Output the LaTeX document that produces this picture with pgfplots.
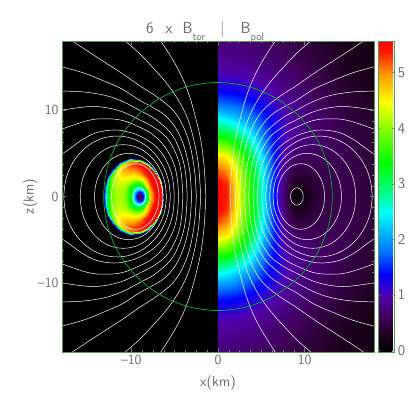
\documentclass[border=0pt]{standalone}
\usepackage{pgfplots}
\usepackage{pgfplotstable}
\pgfplotsset{compat=1.18}
\definecolor{frm}{rgb}{0.36,0.58,0.36}
\definecolor{txt}{rgb}{0.42,0.42,0.42}
\definecolor{circ}{rgb}{0.05,0.68,0.2}
\pgfplotstableread[row sep=\\]{
x y v\\
0 0 5.55\\ 1 0 5.35\\ 2 0 4.7\\ 3 0 3.95\\ 4 0 3.3\\ 5 0 2.7\\ 6 0 1.75\\ 7 0 1.05\\ 8 0 0.5\\ 9 0 0.03\\ 10 0 0.2\\ 11.5 0 0.42\\ 13 0 0.5\\ 15 0 0.52\\ 18 0 0.42\\
0 1.5 5.5\\ 1 1.5 5.3\\ 2 1.5 4.65\\ 3 1.5 3.95\\ 4 1.5 3.3\\ 5 1.5 2.7\\ 6 1.5 1.8\\ 7 1.5 1.1\\ 8 1.5 0.55\\ 9 1.5 0.25\\ 10 1.5 0.3\\ 11.5 1.5 0.45\\ 13 1.5 0.52\\ 15 1.5 0.52\\ 18 1.5 0.42\\
0 3 5.2\\ 1 3 5.0\\ 2 3 4.5\\ 3 3 3.85\\ 4 3 3.2\\ 5 3 2.6\\ 6 3 1.8\\ 7 3 1.15\\ 8 3 0.7\\ 9 3 0.45\\ 10 3 0.45\\ 11.5 3 0.5\\ 13 3 0.55\\ 15 3 0.53\\ 18 3 0.42\\
0 4.5 4.7\\ 1 4.5 4.55\\ 2 4.5 4.15\\ 3 4.5 3.6\\ 4 4.5 3.0\\ 5 4.5 2.45\\ 6 4.5 1.75\\ 7 4.5 1.2\\ 8 4.5 0.85\\ 9 4.5 0.65\\ 10 4.5 0.6\\ 11.5 4.5 0.58\\ 13 4.5 0.57\\ 15 4.5 0.53\\ 18 4.5 0.41\\
0 6 3.95\\ 1 6 3.85\\ 2 6 3.55\\ 3 6 3.15\\ 4 6 2.65\\ 5 6 2.15\\ 6 6 1.6\\ 7 6 1.2\\ 8 6 0.95\\ 9 6 0.8\\ 10 6 0.72\\ 11.5 6 0.65\\ 13 6 0.6\\ 15 6 0.52\\ 18 6 0.4\\
0 7.5 3.1\\ 1 7.5 3.05\\ 2 7.5 2.85\\ 3 7.5 2.6\\ 4 7.5 2.25\\ 5 7.5 1.85\\ 6 7.5 1.5\\ 7 7.5 1.2\\ 8 7.5 1.0\\ 9 7.5 0.88\\ 10 7.5 0.78\\ 11.5 7.5 0.68\\ 13 7.5 0.6\\ 15 7.5 0.5\\ 18 7.5 0.38\\
0 9 2.5\\ 1 9 2.4\\ 2 9 2.25\\ 3 9 2.05\\ 4 9 1.85\\ 5 9 1.6\\ 6 9 1.35\\ 7 9 1.15\\ 8 9 1.0\\ 9 9 0.88\\ 10 9 0.78\\ 11.5 9 0.68\\ 13 9 0.58\\ 15 9 0.47\\ 18 9 0.35\\
0 10.5 1.85\\ 1 10.5 1.82\\ 2 10.5 1.75\\ 3 10.5 1.65\\ 4 10.5 1.5\\ 5 10.5 1.35\\ 6 10.5 1.2\\ 7 10.5 1.05\\ 8 10.5 0.93\\ 9 10.5 0.83\\ 10 10.5 0.74\\ 11.5 10.5 0.63\\ 13 10.5 0.54\\ 15 10.5 0.43\\ 18 10.5 0.3\\
0 12 1.4\\ 1 12 1.38\\ 2 12 1.35\\ 3 12 1.28\\ 4 12 1.2\\ 5 12 1.12\\ 6 12 1.02\\ 7 12 0.92\\ 8 12 0.83\\ 9 12 0.75\\ 10 12 0.68\\ 11.5 12 0.58\\ 13 12 0.49\\ 15 12 0.38\\ 18 12 0.26\\
0 13.5 1.12\\ 1 13.5 1.1\\ 2 13.5 1.08\\ 3 13.5 1.04\\ 4 13.5 1.0\\ 5 13.5 0.93\\ 6 13.5 0.87\\ 7 13.5 0.8\\ 8 13.5 0.73\\ 9 13.5 0.67\\ 10 13.5 0.61\\ 11.5 13.5 0.52\\ 13 13.5 0.43\\ 15 13.5 0.33\\ 18 13.5 0.22\\
0 15 0.95\\ 1 15 0.94\\ 2 15 0.92\\ 3 15 0.89\\ 4 15 0.85\\ 5 15 0.8\\ 6 15 0.75\\ 7 15 0.7\\ 8 15 0.65\\ 9 15 0.6\\ 10 15 0.54\\ 11.5 15 0.46\\ 13 15 0.38\\ 15 15 0.29\\ 18 15 0.19\\
0 16.5 0.84\\ 1 16.5 0.83\\ 2 16.5 0.81\\ 3 16.5 0.78\\ 4 16.5 0.75\\ 5 16.5 0.71\\ 6 16.5 0.67\\ 7 16.5 0.63\\ 8 16.5 0.58\\ 9 16.5 0.53\\ 10 16.5 0.48\\ 11.5 16.5 0.41\\ 13 16.5 0.34\\ 15 16.5 0.25\\ 18 16.5 0.17\\
0 18 0.75\\ 1 18 0.74\\ 2 18 0.72\\ 3 18 0.7\\ 4 18 0.67\\ 5 18 0.64\\ 6 18 0.6\\ 7 18 0.56\\ 8 18 0.52\\ 9 18 0.47\\ 10 18 0.43\\ 11.5 18 0.37\\ 13 18 0.3\\ 15 18 0.22\\ 18 18 0.14\\
}\Bpol
\pgfplotstableread[row sep=\\]{
x y v\\
-9.05 0 0\\ -9.05 0 0\\ -9.05 0 0\\ -9.05 0 0\\ -9.05 0 0\\ -9.05 0 0\\ -9.05 0 0\\ -9.05 0 0\\ -9.05 0 0\\ -9.05 0 0\\ -9.05 0 0\\ -9.05 0 0\\ -9.05 0 0\\
-8.65 0 1.5\\ -8.66 .10 1.45\\ -8.70 .20 1.4\\ -8.77 .28 1.3\\ -8.85 .35 1.2\\ -8.95 .39 1.1\\ -9.05 .4 1.0\\ -9.15 .39 1.05\\ -9.25 .35 1.1\\ -9.33 .28 1.2\\ -9.40 .20 1.3\\ -9.44 .10 1.4\\ -9.45 0 1.5\\
-8.35 0 2.6\\ -8.37 .18 2.5\\ -8.44 .35 2.4\\ -8.55 .49 2.25\\ -8.70 .61 2.1\\ -8.87 .68 2.0\\ -9.05 .7 1.9\\ -9.23 .68 1.95\\ -9.40 .61 2.0\\ -9.54 .49 2.15\\ -9.66 .35 2.3\\ -9.73 .18 2.4\\ -9.75 0 2.5\\
-8.05 0 3.6\\ -8.08 .26 3.5\\ -8.18 .50 3.4\\ -8.34 .71 3.2\\ -8.55 .87 3.0\\ -8.79 .97 2.85\\ -9.05 1 2.7\\ -9.31 .97 2.75\\ -9.55 .87 2.8\\ -9.76 .71 2.95\\ -9.92 .50 3.1\\ -10.02 .26 3.2\\ -10.05 0 3.3\\
-7.82 0 4.7\\ -7.84 .32 4.75\\ -7.91 .66 4.75\\ -8.03 1.02 4.7\\ -8.25 1.39 4.6\\ -8.58 1.74 4.45\\ -9.05 1.98 4.3\\ -9.59 2.01 4.25\\ -10.10 1.81 4.2\\ -10.49 1.44 4.15\\ -10.76 .99 4.1\\ -10.90 .50 4.1\\ -10.95 0 4.1\\
-7.28 0 5.4\\ -7.30 .47 5.45\\ -7.40 .96 5.5\\ -7.58 1.47 5.5\\ -7.90 2.00 5.45\\ -8.38 2.51 5.3\\ -9.05 2.85 5.1\\ -9.83 2.90 4.9\\ -10.56 2.62 4.7\\ -11.13 2.08 4.45\\ -11.53 1.43 4.25\\ -11.74 .72 4.15\\ -11.80 0 4.1\\
-6.87 0 5.6\\ -6.91 .57 5.6\\ -7.01 1.18 5.6\\ -7.24 1.81 5.6\\ -7.63 2.47 5.6\\ -8.22 3.09 5.55\\ -9.05 3.5 5.4\\ -10.01 3.57 5.2\\ -10.91 3.21 4.85\\ -11.61 2.56 4.45\\ -12.10 1.76 4.1\\ -12.35 .89 3.9\\ -12.43 0 3.75\\
-6.54 0 5.6\\ -6.58 .66 5.6\\ -6.71 1.35 5.6\\ -6.97 2.08 5.6\\ -7.41 2.84 5.6\\ -8.10 3.55 5.5\\ -9.05 4.04 5.3\\ -10.15 4.11 5.0\\ -11.19 3.70 4.5\\ -11.99 2.94 3.9\\ -12.56 2.03 3.4\\ -12.85 1.02 3.0\\ -12.94 0 2.8\\
-6.40 0 5.0\\ -6.44 .70 4.8\\ -6.58 1.43 4.5\\ -6.86 2.19 4.2\\ -7.33 2.99 3.9\\ -8.05 3.75 3.4\\ -9.05 4.26 2.9\\ -10.21 4.33 2.5\\ -11.30 3.90 2.2\\ -12.15 3.10 1.9\\ -12.75 2.14 1.75\\ -13.05 1.07 1.7\\ -13.15 0 1.6\\
-6.32 0 .4\\ -6.36 .72 .4\\ -6.50 1.47 .4\\ -6.79 2.26 .4\\ -7.27 3.08 .4\\ -8.01 3.86 .4\\ -9.05 4.39 .4\\ -10.25 4.46 .4\\ -11.37 4.02 .4\\ -12.25 3.20 .4\\ -12.86 2.20 .4\\ -13.18 1.11 .4\\ -13.28 0 .4\\
}\Btor
\pgfplotstableread[row sep=\\]{x y\\ 1.4 0\\ 1.45 1\\ 1.53 2.5\\ 1.65 4\\ 2.0 6.6\\ 2.55 9\\ 3.25 11.5\\ 4.1 13.7\\ 5.2 15.8\\ 6.6 18\\}\LA
\pgfplotstableread[row sep=\\]{x y\\ 2 0\\ 2.05 1\\ 2.15 2.5\\ 2.3 4\\ 2.8 6.6\\ 3.5 9\\ 4.6 11.2\\ 6 13.2\\ 7.5 14.9\\ 9 16.5\\ 10.7 18\\}\LB
\pgfplotstableread[row sep=\\]{x y\\ 2.5 0\\ 2.55 1\\ 2.65 2.5\\ 2.85 4\\ 3.3 6.2\\ 4.1 8.3\\ 5.2 10\\ 7 11.5\\ 9 12.8\\ 11 14.2\\ 13 15.5\\ 15 16.8\\ 16.8 18\\}\LC
\pgfplotstableread[row sep=\\]{x y\\ 3.05 0\\ 3.1 1\\ 3.2 2.5\\ 3.45 4\\ 3.95 5.9\\ 4.8 7.8\\ 6 9.3\\ 7.5 10.3\\ 9 11.1\\ 11 12.4\\ 13 13.3\\ 15.5 14.3\\ 18 15\\}\LD
\pgfplotstableread[row sep=\\]{x y\\ 3.55 0\\ 3.6 1\\ 3.72 2.5\\ 3.98 4\\ 4.55 5.7\\ 5.5 7.4\\ 7.3 9\\ 9 9.95\\ 11 11\\ 13 11.7\\ 15.5 12.1\\ 18 12.2\\}\LE
\pgfplotstableread[row sep=\\]{x y\\ 4.05 0\\ 4.1 1\\ 4.22 2.5\\ 4.5 4\\ 5.1 5.5\\ 6 6.9\\ 7.4 8\\ 9 8.85\\ 11 9.8\\ 13 10.3\\ 15 10.4\\ 18 10\\}\LF
\pgfplotstableread[row sep=\\]{x y\\ 4.55 0\\ 4.6 1\\ 4.72 2.2\\ 5 3.5\\ 5.6 4.9\\ 6.5 6.2\\ 7.7 7.3\\ 9 8\\ 11 8.8\\ 13 9\\ 15 8.8\\ 18 7.8\\}\LG
\pgfplotstableread[row sep=\\]{x y\\ 5.05 0\\ 5.1 1\\ 5.28 2.3\\ 5.7 3.6\\ 6.4 4.9\\ 7.4 6\\ 9 7\\ 10.5 7.5\\ 12 7.7\\ 14 7.4\\ 15.7 6.55\\ 17 5.6\\ 18 4.9\\}\LH
\pgfplotstableread[row sep=\\]{x y\\ 5.5 0\\ 5.71 1.81\\ 6.32 3.5\\ 7.30 4.95\\ 8.58 6.06\\ 10.06 6.76\\ 11.65 7\\ 13.24 6.76\\ 14.73 6.06\\ 16 4.95\\ 16.98 3.5\\ 17.59 1.81\\ 17.8 0\\}\LI
\pgfplotstableread[row sep=\\]{x y\\ 5.95 0\\ 6.12 1.55\\ 6.62 3\\ 7.41 4.24\\ 8.44 5.2\\ 9.64 5.8\\ 10.93 6\\ 12.22 5.8\\ 13.42 5.2\\ 14.45 4.24\\ 15.24 3\\ 15.74 1.55\\ 15.9 0\\}\LJ
\pgfplotstableread[row sep=\\]{x y\\ 6.35 0\\ 6.48 1.3\\ 6.88 2.5\\ 7.51 3.54\\ 8.33 4.33\\ 9.28 4.83\\ 10.3 5\\ 11.32 4.83\\ 12.28 4.33\\ 13.09 3.54\\ 13.72 2.5\\ 14.12 1.3\\ 14.26 0\\}\LK
\pgfplotstableread[row sep=\\]{x y\\ 6.8 0\\ 6.89 .98\\ 7.17 1.9\\ 7.61 2.69\\ 8.18 3.29\\ 8.84 3.67\\ 9.55 3.8\\ 10.26 3.67\\ 10.92 3.29\\ 11.49 2.69\\ 11.93 1.9\\ 12.21 .98\\ 12.3 0\\}\LL
\pgfplotstableread[row sep=\\]{x y\\ 8.37 0\\ 8.39 .26\\ 8.47 .5\\ 8.58 .71\\ 8.74 .87\\ 8.91 .97\\ 9.1 1\\ 9.29 .97\\ 9.47 .87\\ 9.62 .71\\ 9.73 .5\\ 9.81 .26\\ 9.83 0\\}\LM
\newcommand\fieldline[1]{%
\addplot[white,line width=.5pt,smooth,tension=.6] table[x=x,y=y]{#1};
\addplot[white,line width=.5pt,smooth,tension=.6] table[x=x,y expr=-\thisrow{y}]{#1};
\addplot[white,line width=.5pt,smooth,tension=.6] table[x expr=-\thisrow{x},y=y]{#1};
\addplot[white,line width=.5pt,smooth,tension=.6] table[x expr=-\thisrow{x},y expr=-\thisrow{y}]{#1};
}
\pgfplotsset{
colormap={idl}{
rgb(0pt)=(0,0,0);
rgb(3pt)=(.11,0,.11);
rgb(6pt)=(.24,0,.33);
rgb(10pt)=(.32,0,.65);
rgb(12pt)=(.16,0,.85);
rgb(14pt)=(0,0,1);
rgb(18pt)=(0,.45,1);
rgb(22pt)=(0,.75,1);
rgb(25pt)=(0,1,1);
rgb(29pt)=(0,1,.5);
rgb(34pt)=(0,1,0);
rgb(40pt)=(.5,1,0);
rgb(45pt)=(1,1,0);
rgb(50pt)=(1,.6,0);
rgb(54pt)=(1,.1,0);
rgb(56pt)=(1,0,0)
}}
\begin{document}
\begin{tikzpicture}
\useasboundingbox (0,0) rectangle (415bp,415bp);
\begin{axis}[
at={(62bp,63bp)},anchor=south west,
scale only axis,width=312bp,height=311bp,
xmin=-18,xmax=18,ymin=-18,ymax=18,
axis on top,
axis background/.style={fill=black},
axis line style={frm,line width=.6pt},
xtick={-10,0,10},ytick={-10,0,10},
xticklabels={--10,0,10},yticklabels={--10,0,10},
minor tick num=7,
tick style={frm,line width=.4pt},
major tick length=4bp,minor tick length=2.2bp,
tick align=inside,
tick label style={txt,font=\fontsize{14}{14}\selectfont\sffamily},
xlabel={x(km)},ylabel={z(km)},
label style={txt,font=\fontsize{14.5}{14.5}\selectfont\sffamily},
xlabel style={yshift=-4bp},
ylabel style={yshift=-6bp},
colormap name=idl,
point meta min=-0.03,point meta max=5.57,
colorbar,
colorbar shift/.style={xshift=4bp},
colorbar style={
  width=16bp,
  ytick={0,1,2,3,4,5},
  yticklabels={0,1,2,3,4,5},
  minor tick num=0,
  axis line style={frm,line width=.6pt},
  tick style={frm,line width=.4pt},
  tick label style={txt,font=\fontsize{15}{15}\selectfont\sffamily},
  major tick length=2bp,
},
]
\addplot[surf,shader=interp,mesh/cols=15,point meta=explicit] table[x=x,y=y,meta=v]{\Bpol};
\addplot[surf,shader=interp,mesh/cols=15,point meta=explicit] table[x=x,y expr=-\thisrow{y},meta=v]{\Bpol};
\addplot[surf,shader=interp,mesh/cols=13,point meta=explicit] table[x=x,y=y,meta=v]{\Btor};
\addplot[surf,shader=interp,mesh/cols=13,point meta=explicit] table[x=x,y expr=-\thisrow{y},meta=v]{\Btor};
\fieldline\LA \fieldline\LB \fieldline\LC \fieldline\LD \fieldline\LE \fieldline\LF \fieldline\LG
\fieldline\LH \fieldline\LI \fieldline\LJ \fieldline\LK \fieldline\LL \fieldline\LM
\addplot[circ,line width=.7pt,smooth cycle] coordinates {(13.2,0)(12.75,3.42)(11.43,6.6)(9.33,9.33)(6.6,11.43)(3.42,12.75)(0,13.2)(-3.42,12.75)(-6.6,11.43)(-9.33,9.33)(-11.43,6.6)(-12.75,3.42)(-13.2,0)(-12.75,-3.42)(-11.43,-6.6)(-9.33,-9.33)(-6.6,-11.43)(-3.42,-12.75)(0,-13.2)(3.42,-12.75)(6.6,-11.43)(9.33,-9.33)(11.43,-6.6)(12.75,-3.42)};
\end{axis}
\node[anchor=base west,inner sep=0pt,txt,font=\fontsize{16}{16}\selectfont\sffamily] at (146bp,381bp) {6\hspace{12bp}x\hspace{10bp}B\raisebox{-.4em}{\fontsize{11}{11}\selectfont tor}\hspace{15bp}|\hspace{16bp}B\raisebox{-.4em}{\fontsize{11}{11}\selectfont pol}};
\end{tikzpicture}
\end{document}
